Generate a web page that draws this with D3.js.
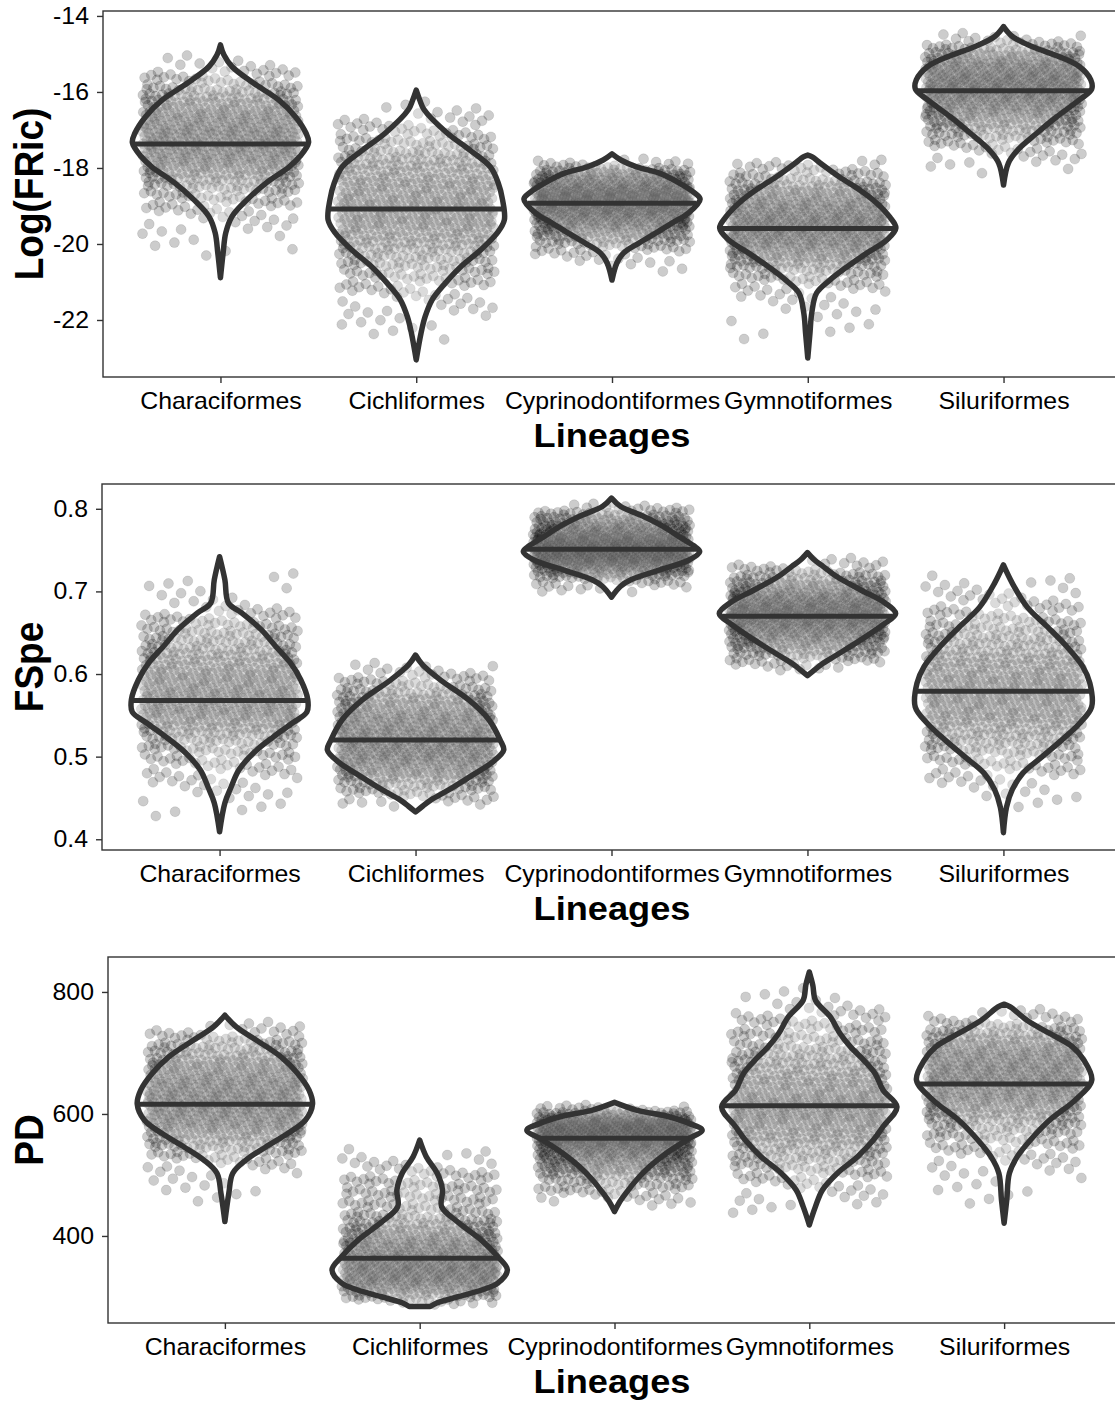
<!DOCTYPE html>
<html>
<head>
<meta charset="utf-8">
<script src="https://cdn.jsdelivr.net/npm/d3@7"></script>
<style>
  body { margin: 0; background: #fff; }
  svg { display: block; font-family: "Liberation Sans", Arial, sans-serif; }
</style>
</head>
<body>
<svg id="chart" width="1115" height="1401"></svg>
<script>
const lineages = ["Characiformes", "Cichliformes", "Cyprinodontiformes", "Gymnotiformes", "Siluriformes"];

// violin outlines: [value, half-width relative to the widest point]
const fricProfiles = [
  [[-14.76,0],[-15.03,0.04],[-15.33,0.13],[-15.76,0.37],[-16.21,0.66],[-16.65,0.85],[-17.08,0.97],[-17.33,1],
   [-17.70,0.9],[-17.97,0.78],[-18.39,0.52],[-18.84,0.3],[-19.28,0.13],[-19.71,0.06],[-20.24,0.03],[-20.89,0]],
  [[-15.95,0],[-16.21,0.04],[-16.47,0.09],[-17.08,0.35],[-17.53,0.61],[-17.97,0.84],[-18.39,0.93],[-18.84,0.98],
   [-19.37,1],[-19.71,0.92],[-20.16,0.73],[-20.61,0.5],[-21.03,0.33],[-21.47,0.18],[-21.92,0.1],[-22.34,0.055],[-23.05,0]],
  [[-17.63,0],[-17.79,0.1],[-17.97,0.28],[-18.13,0.53],[-18.39,0.76],[-18.66,0.94],[-18.82,1],[-19.18,0.87],
   [-19.45,0.68],[-19.71,0.5],[-19.97,0.31],[-20.24,0.13],[-20.50,0.055],[-20.95,0]],
  [[-17.66,0],[-17.71,0.05],[-17.87,0.14],[-18.24,0.36],[-18.58,0.59],[-18.92,0.78],[-19.29,0.93],[-19.58,1],
   [-19.89,0.9],[-20.24,0.67],[-20.61,0.44],[-20.95,0.25],[-21.29,0.1],[-21.82,0.045],[-22.34,0.025],[-23.00,0]],
  [[-14.28,0],[-14.54,0.1],[-14.81,0.33],[-15.07,0.63],[-15.33,0.86],[-15.68,0.99],[-15.93,1],[-16.21,0.86],
   [-16.66,0.6],[-17.08,0.38],[-17.53,0.16],[-17.87,0.055],[-18.45,0]]
];
const fricMedians = [-17.37, -19.08, -18.93, -19.59, -15.97];
const fricTicks = [-22, -20, -18, -16, -14];

const fspeProfiles = [
  [[0.742,0],[0.714,0.06],[0.686,0.1],[0.674,0.25],[0.654,0.47],[0.633,0.64],[0.614,0.8],[0.593,0.92],[0.569,1],
   [0.554,0.99],[0.541,0.83],[0.524,0.61],[0.505,0.39],[0.484,0.22],[0.463,0.13],[0.444,0.06],[0.409,0]],
  [[0.623,0],[0.611,0.08],[0.593,0.28],[0.569,0.6],[0.545,0.83],[0.520,0.96],[0.508,1],[0.494,0.88],
   [0.478,0.65],[0.460,0.38],[0.448,0.18],[0.440,0.08],[0.433,0]],
  [[0.813,0],[0.803,0.1],[0.791,0.36],[0.779,0.58],[0.766,0.77],[0.754,0.95],[0.748,1],[0.738,0.88],
   [0.726,0.55],[0.714,0.22],[0.706,0.1],[0.693,0]],
  [[0.747,0],[0.738,0.08],[0.730,0.18],[0.718,0.33],[0.702,0.6],[0.686,0.88],[0.673,1],[0.660,0.86],
   [0.641,0.6],[0.623,0.33],[0.611,0.15],[0.604,0.07],[0.598,0]],
  [[0.732,0],[0.710,0.1],[0.681,0.27],[0.657,0.5],[0.633,0.72],[0.609,0.9],[0.589,0.98],[0.560,1],
   [0.541,0.87],[0.520,0.66],[0.500,0.44],[0.480,0.22],[0.460,0.1],[0.439,0.035],[0.408,0]]
];
const fspeMedians = [0.568, 0.520, 0.751, 0.670, 0.579];
const fspeTicks = [0.4, 0.5, 0.6, 0.7, 0.8];

const pdProfiles = [
  [[761.9,0],[742.7,0.13],[720.9,0.36],[693.6,0.64],[666.4,0.83],[639.1,0.96],[616.2,1],[590.0,0.92],
   [568.2,0.72],[546.3,0.47],[524.5,0.24],[502.8,0.09],[470.0,0.045],[423.6,0]],
  [[557.3,0],[530.0,0.075],[502.8,0.2],[475.4,0.26],[448.1,0.25],[420.9,0.45],[393.6,0.7],[366.3,0.89],
   [344.5,1],[322.7,0.89],[300.8,0.45],[290.5,0.2],[284.4,0.12]],
  [[619.0,0],[606.4,0.25],[595.4,0.62],[584.6,0.85],[573.6,1],[557.3,0.82],[535.5,0.59],[513.6,0.4],
   [491.8,0.25],[470.0,0.13],[453.7,0.05],[440.0,0]],
  [[832.7,0],[811.0,0.04],[786.4,0.07],[759.1,0.24],[731.9,0.35],[710.0,0.47],[688.2,0.62],[666.4,0.75],
   [639.1,0.84],[611.8,1],[579.0,0.84],[557.3,0.73],[530.0,0.55],[502.8,0.32],[475.4,0.15],[448.1,0.07],[418.2,0]],
  [[779.9,0],[775.5,0.07],[753.7,0.26],[731.9,0.52],[710.0,0.78],[688.2,0.91],[655.5,1],[622.7,0.81],
   [590.0,0.52],[557.3,0.3],[530.0,0.15],[502.8,0.06],[459.1,0.03],[420.9,0]]
];
const pdMedians = [616, 363.6, 560, 613.4, 649];
const pdTicks = [400, 600, 800];

const pointsPerLineage = 700;

const panels = [
  { title: "Log(FRic)", profiles: fricProfiles, medians: fricMedians, ticks: fricTicks, fmt: d => String(d),
    domain: [-23.5, -13.87], left: 103, top: 11, bottom: 377 },
  { title: "FSpe", profiles: fspeProfiles, medians: fspeMedians, ticks: fspeTicks, fmt: d3.format(".1f"),
    domain: [0.387, 0.830], left: 102, top: 484, bottom: 850 },
  { title: "PD", profiles: pdProfiles, medians: pdMedians, ticks: pdTicks, fmt: d => String(d),
    domain: [257.3, 857.3], left: 108, top: 957, bottom: 1323 }
];

const W = 1115;
const SX = 1.08;          // the picture's text is a little wider than tall
const ink = "#333333";
const svg = d3.select("#chart");

// half-width of a profile at value v (linear between read points)
function widthAt(profile, v) {
  const p = profile.slice().sort((a, b) => a[0] - b[0]);
  if (v <= p[0][0]) return p[0][1];
  if (v >= p[p.length - 1][0]) return p[p.length - 1][1];
  const i = d3.bisector(d => d[0]).right(p, v);
  const a = p[i - 1], b = p[i];
  return a[1] + (b[1] - a[1]) * (v - a[0]) / (b[0] - a[0]);
}

// inverse of the cumulative of the violin's density
function quantileFn(profile) {
  const lo = d3.min(profile, d => d[0]), hi = d3.max(profile, d => d[0]);
  const n = 600, vals = [], cdf = [0];
  for (let i = 0; i <= n; i++) vals.push(lo + (hi - lo) * i / n);
  for (let i = 1; i <= n; i++) {
    const f = (widthAt(profile, vals[i - 1]) + widthAt(profile, vals[i])) / 2;
    cdf.push(cdf[i - 1] + f);
  }
  const tot = cdf[n];
  return u => {
    const t = u * tot;
    const i = Math.max(1, Math.min(n, d3.bisectLeft(cdf, t)));
    const f = (t - cdf[i - 1]) / ((cdf[i] - cdf[i - 1]) || 1);
    return vals[i - 1] + f * (vals[i] - vals[i - 1]);
  };
}

// evenly spread 2d sequence used in place of the random jitter
const g2 = 1.32471795724474602596;
const frac = v => v - Math.floor(v);

panels.forEach((p, pi) => {
  const right = W + 6;    // the frame runs just past the picture's right edge
  const x = d3.scalePoint().domain(lineages).range([p.left, right]).padding(0.6);
  const y = d3.scaleLinear().domain(p.domain).range([p.bottom, p.top]);
  const step = x.step();
  const hwMax = 0.45 * step;

  const g = svg.append("g");
  const clipId = "clip" + pi;
  g.append("clipPath").attr("id", clipId)
    .append("rect").attr("x", p.left).attr("y", p.top)
    .attr("width", right - p.left).attr("height", p.bottom - p.top);

  const plot = g.append("g").attr("clip-path", `url(#${clipId})`);

  // jittered points
  lineages.forEach((name, li) => {
    const q = quantileFn(p.profiles[li]);
    const cx = x(name);
    const pts = d3.range(pointsPerLineage).map(i => {
      const k = i + 1 + li * 1379 + pi * 4111;
      const u = frac(0.5 + k / g2);
      const v = frac(0.5 + k / (g2 * g2));
      return [cx + (2 * u - 1) * 0.4 * step, q(0.002 + 0.996 * v)];
    });
    plot.append("g").selectAll("circle").data(pts).join("circle")
      .attr("cx", d => d[0])
      .attr("cy", d => y(d[1]))
      .attr("r", 5)
      .attr("fill", "#000")
      .attr("fill-opacity", 0.2)
      .attr("stroke", "#000")
      .attr("stroke-opacity", 0.12)
      .attr("stroke-width", 0.8);
  });

  // violins
  lineages.forEach((name, li) => {
    const cx = x(name);
    const prof = p.profiles[li];
    const area = d3.area()
      .y(d => y(d[0]))
      .x0(d => cx - d[1] * hwMax)
      .x1(d => cx + d[1] * hwMax)
      .curve(d3.curveCatmullRom.alpha(0.5));
    plot.append("path")
      .attr("d", area(prof))
      .attr("fill", "#fff")
      .attr("fill-opacity", 0.3)
      .attr("stroke", ink)
      .attr("stroke-width", 5.5)
      .attr("stroke-linejoin", "round");
    const m = p.medians[li];
    const w = widthAt(prof, m) * hwMax;
    plot.append("line")
      .attr("x1", cx - w).attr("x2", cx + w)
      .attr("y1", y(m)).attr("y2", y(m))
      .attr("stroke", ink)
      .attr("stroke-width", 5);
  });

  // frame
  g.append("rect")
    .attr("x", p.left).attr("y", p.top)
    .attr("width", right - p.left).attr("height", p.bottom - p.top)
    .attr("fill", "none").attr("stroke", ink).attr("stroke-width", 1.4);

  // axes
  g.append("g")
    .attr("transform", `translate(${p.left},0)`)
    .call(d3.axisLeft(y).tickValues(p.ticks).tickFormat(p.fmt).tickSize(6).tickPadding(7))
    .call(a => a.select(".domain").remove())
    .call(a => a.selectAll("line").attr("stroke", ink).attr("stroke-width", 1.4))
    .call(a => a.selectAll("text").attr("fill", "#000").attr("transform", `scale(${SX},1)`))
    .attr("font-size", 23)
    .attr("font-family", "Liberation Sans, Arial, sans-serif");

  g.append("g")
    .attr("transform", `translate(0,${p.bottom})`)
    .call(d3.axisBottom(x).tickSize(6).tickPadding(10))
    .call(a => a.select(".domain").remove())
    .call(a => a.selectAll("line").attr("stroke", ink).attr("stroke-width", 1.4))
    .call(a => a.selectAll("text").attr("fill", "#000").attr("transform", `scale(${SX},1)`))
    .attr("font-size", 23)
    .attr("font-family", "Liberation Sans, Arial, sans-serif");

  // titles
  g.append("text")
    .attr("transform", `translate(612,${p.bottom + 70}) scale(${SX},1)`)
    .attr("text-anchor", "middle")
    .attr("font-size", 33.5)
    .attr("font-weight", "bold")
    .text("Lineages");

  g.append("text")
    .attr("transform", `translate(43,${(p.top + p.bottom) / 2}) scale(${SX},1) rotate(-90)`)
    .attr("text-anchor", "middle")
    .attr("font-size", 37)
    .attr("font-weight", "bold")
    .text(p.title);
});
</script>
</body>
</html>
